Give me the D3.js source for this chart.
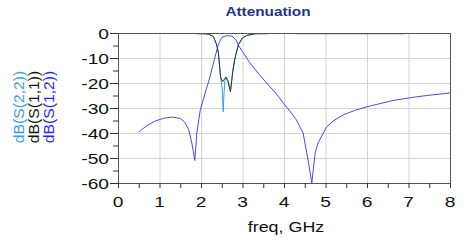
<!DOCTYPE html>
<html><head><meta charset="utf-8">
<script src="https://cdn.jsdelivr.net/npm/d3@7"></script>
<style>body{margin:0;background:#fff}svg{display:block}text{font-family:Arial,"Liberation Sans",sans-serif}</style>
</head><body><svg id="c" width="466" height="251"></svg>
<script>
const title = "Attenuation";
const xLabel = "freq, GHz";
const legendNames = ["dB(S(2,2))", "dB(S(1,1))", "dB(S(1,2))"];
const xTicks = [0,1,2,3,4,5,6,7,8];
const xTickLabels = ["0","1","2","3","4","5","6","7","8"];
const yTicks = [0,-10,-20,-30,-40,-50,-60];
const yTickLabels = ["0","-10","-20","-30","-40","-50","-60"];

// dB(S(1,2))
const freq12 = [0.5,0.7,0.9,1.1,1.3,1.5,1.6,1.7,1.78,1.85,1.9,1.98,2.1,2.2,2.34,2.42,2.5,2.6,2.75,2.85,2.9,3.0,3.18,3.4,3.58,3.8,4.02,4.2,4.3,4.46,4.58,4.67,4.75,4.82,5.03,5.2,5.42,5.7,6.0,6.3,6.63,7.0,7.2,7.6,8.0];
const s12 = [-39.6,-37,-35.2,-34.1,-33.6,-34.2,-35.5,-38.5,-44,-51,-40,-31,-24,-18.5,-9.5,-4.5,-1.8,-1.1,-1.2,-3,-4.8,-7.5,-12,-16.5,-20,-24,-28.8,-32.5,-34.8,-40,-50.8,-60,-48,-44,-37.5,-35,-32.8,-31,-29.5,-28.3,-27,-26,-25.5,-24.7,-24];
// dB(S(1,1))
const freq11 = [0.5,1.85,1.9,2.1,2.2,2.3,2.38,2.42,2.47,2.52,2.6,2.65,2.71,2.74,2.77,2.82,2.9,3.0,3.1,3.3,3.6,3.65,4.25,4.3,6.9,6.95,8.0];
const s11 = [0,0,-0.25,-0.3,-0.5,-1.5,-4.8,-8,-17.5,-19.5,-17.6,-19,-23.5,-19,-14.8,-10,-4.7,-2,-1,-0.3,-0.25,0,0,-0.25,-0.25,0,0];
// dB(S(2,2))
const freq22 = [0.5,1.85,1.9,2.1,2.2,2.3,2.38,2.42,2.47,2.51,2.535,2.555,2.575,2.6,2.65,2.71,2.74,2.77,2.82,2.9,3.0,3.1,3.3,3.6,3.65,4.25,4.3,6.9,6.95,8.0];
const s22 = [0,0,-0.25,-0.3,-0.5,-1.5,-4.8,-8,-17.5,-22,-31.5,-24,-19,-17.8,-19.5,-23.5,-19,-14.8,-10,-4.7,-2,-1,-0.3,-0.25,0,0,-0.25,-0.25,0,0];

const svg = d3.select("#c");
const x = d3.scaleLinear().domain([0,8]).range([118,450]);
const y = d3.scaleLinear().domain([-60,0]).range([183,33]);
const SX = 1.28;

function stext(g, tx, ty, str, size, anchor, fill, weight){
  return g.append("text").attr("transform", `translate(${tx},${ty}) scale(${SX},1)`)
    .attr("text-anchor", anchor).attr("font-size", size).attr("fill", fill)
    .attr("font-weight", weight||"normal").text(str);
}

svg.append("defs").append("clipPath").attr("id","pc").append("rect")
  .attr("x", x(0)).attr("y", y(0)+0.6).attr("width", x(8)-x(0)).attr("height", y(-60)-y(0)+2);

// grid
svg.append("g").selectAll("line").data(xTicks.slice(1,-1)).join("line")
  .attr("x1", d=>x(d)+0.5).attr("x2", d=>x(d)+0.5).attr("y1", y(0)).attr("y2", y(-60))
  .attr("stroke", "#d4d4d4").attr("stroke-width", 1);
svg.append("g").selectAll("line").data(yTicks.slice(1,-1)).join("line")
  .attr("x1", x(0)).attr("x2", x(8)).attr("y1", d=>y(d)+0.5).attr("y2", d=>y(d)+0.5)
  .attr("stroke", "#d4d4d4").attr("stroke-width", 1);

// curves
const cg = svg.append("g").attr("clip-path","url(#pc)");
const line = (fr) => d3.line().x((d,i)=>x(fr[i])).y(d=>y(d));
cg.append("path").datum(s12).attr("d", line(freq12)).attr("fill","none").attr("stroke","#4a4ade").attr("stroke-width",1);
cg.append("path").datum(s22).attr("d", line(freq22)).attr("fill","none").attr("stroke","#3a9ee0").attr("stroke-width",1);
cg.append("path").datum(s11).attr("d", line(freq11)).attr("fill","none").attr("stroke","#333").attr("stroke-width",1);

// border
svg.append("rect").attr("x", x(0)+0.5).attr("y", y(0)+0.5).attr("width", x(8)-x(0)).attr("height", y(-60)-y(0))
  .attr("fill","none").attr("stroke","#555").attr("stroke-width",1);

// y axis ticks
const yMinor = d3.range(-55, 0, 10);
svg.append("g").selectAll("line").data(yTicks).join("line")
  .attr("x1", x(0)-8).attr("x2", x(0)).attr("y1", d=>y(d)+0.5).attr("y2", d=>y(d)+0.5).attr("stroke","#333");
svg.append("g").selectAll("line").data(yMinor).join("line")
  .attr("x1", x(0)-5).attr("x2", x(0)).attr("y1", d=>y(d)+0.5).attr("y2", d=>y(d)+0.5).attr("stroke","#333");
const yl = svg.append("g");
yTicks.forEach((d,i)=> stext(yl, x(0)-9, y(d)+5.5, yTickLabels[i], 15, "end", "#111"));

// x axis ticks
const xMinor = d3.range(0.5, 8, 1);
svg.append("g").selectAll("line").data(xTicks.concat(xMinor)).join("line")
  .attr("x1", d=>x(d)+0.5).attr("x2", d=>x(d)+0.5).attr("y1", y(-60)).attr("y2", y(-60)+5).attr("stroke","#333");
const xl = svg.append("g");
xTicks.forEach((d,i)=> stext(xl, x(d), 207, xTickLabels[i], 15, "middle", "#111"));

// labels
stext(svg, 268, 16, title, 12, "middle", "#27348b", "bold");
stext(svg, 286, 232, xLabel, 14, "middle", "#111");

// legend (rotated)
const legColors = ["#3a9ee0", "#111", "#2a2ad6"];
const legX = [24, 39, 54];
legendNames.forEach((n,i)=>{
  svg.append("text").attr("transform", `translate(${legX[i]},107) rotate(-90) scale(1.12,1)`)
    .attr("text-anchor","middle").attr("font-size",14).attr("fill",legColors[i]).text(n);
});
</script></body></html>
